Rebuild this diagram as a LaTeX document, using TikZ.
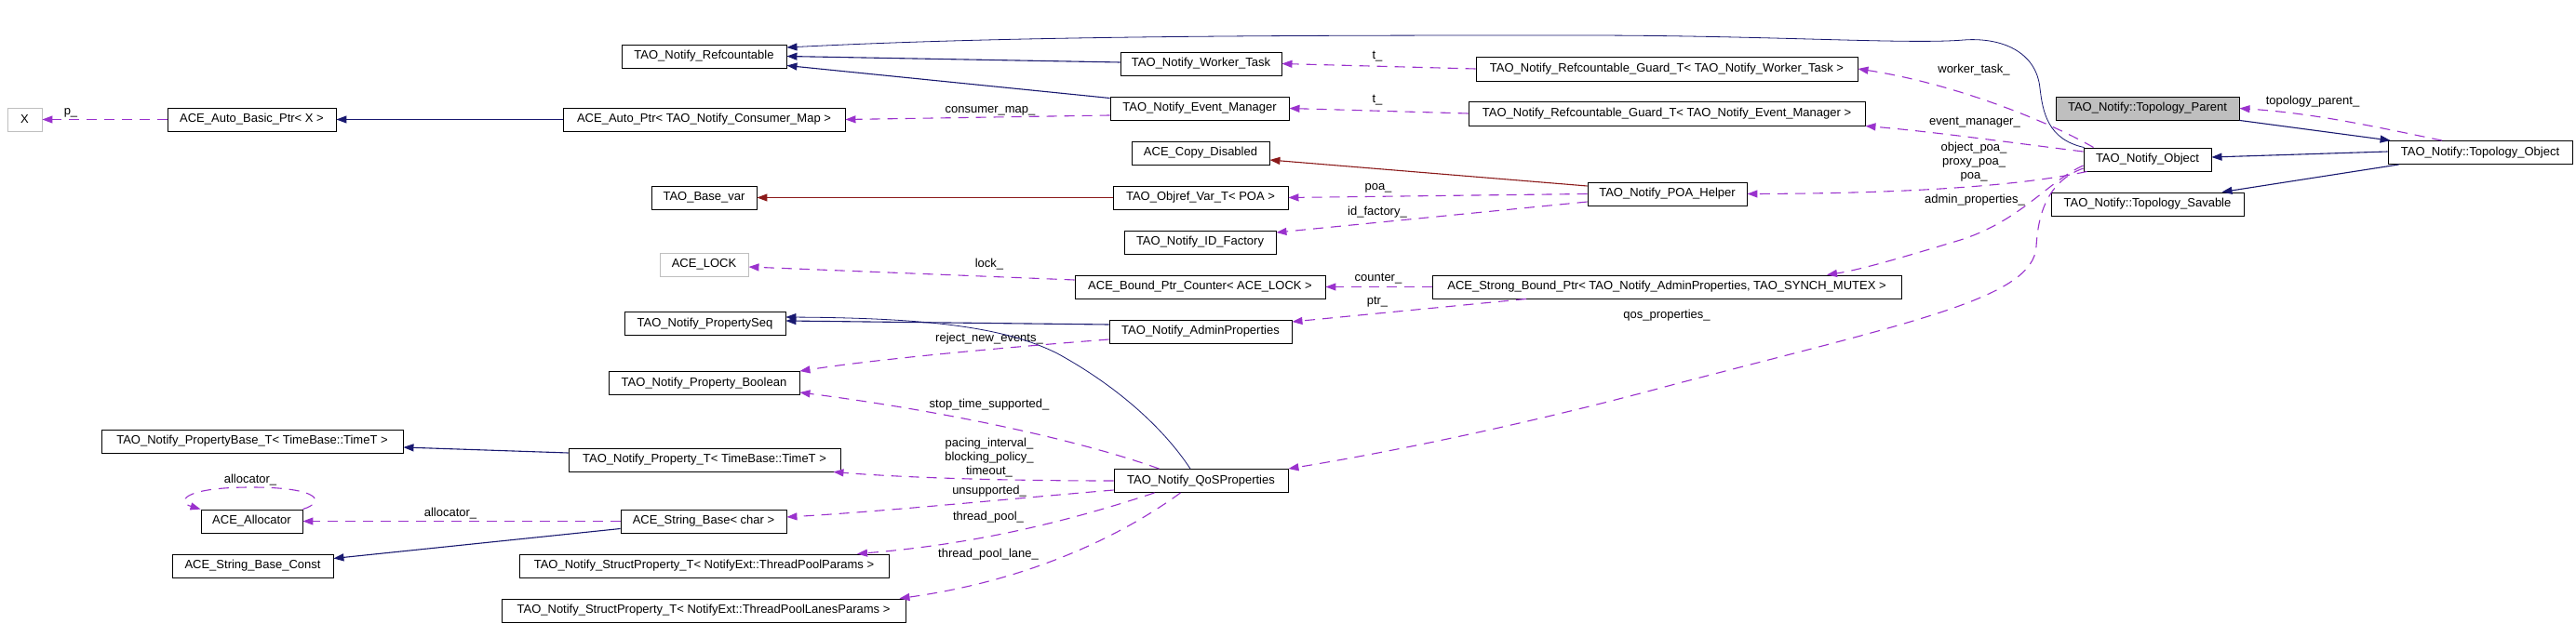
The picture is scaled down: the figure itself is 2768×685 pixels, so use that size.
\documentclass[tikz,border=0pt]{standalone}
\usepackage{fontspec}
\setmainfont{Liberation Sans}
\usetikzlibrary{arrows.meta}
\definecolor{inhblue}{HTML}{191970}
\definecolor{memviolet}{HTML}{9A32CD}
\definecolor{privred}{HTML}{8B1A1A}
\definecolor{grayb}{HTML}{BFBFBF}
\newcommand\fs{\fontsize{13}{15}\selectfont}
\begin{document}
\begin{tikzpicture}[x=1pt,y=-1pt,
  box/.style={draw=black, line width=0.9pt, minimum height=25pt, inner sep=0pt, font=\fs, fill=white, anchor=center},
  gbox/.style={box, draw=grayb},
  lbl/.style={font=\fs, inner sep=0pt, align=center},
  tip/.style={-{Triangle[length=11pt,width=8pt]}},
  inh/.style={tip, draw=inhblue, line width=1.1pt},
  inhthin/.style={tip, draw=inhblue, line width=0.8pt},
  priv/.style={tip, draw=privred, line width=1.1pt},
  mem/.style={tip, draw=memviolet, line width=1.1pt, dash pattern=on 11pt off 8pt}]
\fill[white] (0,0) rectangle (2768,685);
\useasboundingbox (0,0) rectangle (2768,685);
% nodes
\node[gbox, minimum width=37pt] (X) at (26.5,128.5) {X};
\node[box, minimum width=181pt] (autobasic) at (270.5,128.5) {ACE\_Auto\_Basic\_Ptr< X >};
\node[box, minimum width=303pt] (autoptr) at (756.5,128.5) {ACE\_Auto\_Ptr< TAO\_Notify\_Consumer\_Map >};
\node[box, minimum width=177pt] (refc) at (756.5,60.5) {TAO\_Notify\_Refcountable};
\node[box, minimum width=173pt] (worker) at (1290.5,68.5) {TAO\_Notify\_Worker\_Task};
\node[box, minimum width=192pt] (evmgr) at (1289,116.5) {TAO\_Notify\_Event\_Manager};
\node[box, minimum width=148pt] (copydis) at (1290,164.5) {ACE\_Copy\_Disabled};
\node[box, minimum width=113pt] (basevar) at (756.5,212.5) {TAO\_Base\_var};
\node[box, minimum width=188pt] (objref) at (1290,212.5) {TAO\_Objref\_Var\_T< POA >};
\node[box, minimum width=163pt] (idfac) at (1289.5,260.5) {TAO\_Notify\_ID\_Factory};
\node[box, minimum width=171pt] (poahelper) at (1791.5,208.5) {TAO\_Notify\_POA\_Helper};
\node[box, minimum width=410pt, minimum height=26pt] (guardwt) at (1791,74) {TAO\_Notify\_Refcountable\_Guard\_T< TAO\_Notify\_Worker\_Task >};
\node[box, minimum width=426pt, minimum height=26pt] (guardem) at (1791,122) {TAO\_Notify\_Refcountable\_Guard\_T< TAO\_Notify\_Event\_Manager >};
\node[box, minimum width=197pt, fill=grayb] (topparent) at (2307.5,116.5) {TAO\_Notify::Topology\_Parent};
\node[box, minimum width=137pt] (notifyobj) at (2307.5,171.5) {TAO\_Notify\_Object};
\node[box, minimum width=198pt] (topobj) at (2665,164) {TAO\_Notify::Topology\_Object};
\node[box, minimum width=207pt] (topsav) at (2307.5,219.5) {TAO\_Notify::Topology\_Savable};
\node[gbox, minimum width=95pt] (acelock) at (756.5,284.5) {ACE\_LOCK};
\node[box, minimum width=269pt] (boundctr) at (1289.5,308.5) {ACE\_Bound\_Ptr\_Counter< ACE\_LOCK >};
\node[box, minimum width=504pt] (strongbp) at (1791,308.5) {ACE\_Strong\_Bound\_Ptr< TAO\_Notify\_AdminProperties, TAO\_SYNCH\_MUTEX >};
\node[box, minimum width=173pt] (propseq) at (757.5,348) {TAO\_Notify\_PropertySeq};
\node[box, minimum width=196pt] (adminprops) at (1290,356.5) {TAO\_Notify\_AdminProperties};
\node[box, minimum width=205pt] (propbool) at (756.5,412) {TAO\_Notify\_Property\_Boolean};
\node[box, minimum width=324pt] (propbaseT) at (271,474.5) {TAO\_Notify\_PropertyBase\_T< TimeBase::TimeT >};
\node[box, minimum width=292pt] (propT) at (757,494.5) {TAO\_Notify\_Property\_T< TimeBase::TimeT >};
\node[box, minimum width=187pt] (qos) at (1290.5,517) {TAO\_Notify\_QoSProperties};
\node[box, minimum width=109pt] (allocator) at (270.5,560.5) {ACE\_Allocator};
\node[box, minimum width=178pt] (strbase) at (756,560.5) {ACE\_String\_Base< char >};
\node[box, minimum width=173pt] (strbaseconst) at (271.5,608.5) {ACE\_String\_Base\_Const};
\node[box, minimum width=397pt] (structtp) at (756.5,608.5) {TAO\_Notify\_StructProperty\_T< NotifyExt::ThreadPoolParams >};
\node[box, minimum width=434pt] (structtpl) at (756,656.5) {TAO\_Notify\_StructProperty\_T< NotifyExt::ThreadPoolLanesParams >};
% labels
\node[lbl] (lp) at (76,121) {p\_};
\node[lbl] (lcm) at (1064,119) {consumer\_map\_};
\node[lbl] (lt1) at (1480,61) {t\_};
\node[lbl] (lt2) at (1480,108) {t\_};
\node[lbl] (lpoa) at (1481,202) {poa\_};
\node[lbl] (lidf) at (1480,228) {id\_factory\_};
\node[lbl] (lwt) at (2121,75) {worker\_task\_};
\node[lbl] (lem) at (2122,132) {event\_manager\_};
\node[lbl] (lpoas) at (2121,174) {object\_poa\_\\proxy\_poa\_\\poa\_};
\node[lbl] (lap) at (2122,215) {admin\_properties\_};
\node[lbl] (ltp) at (2485,109) {topology\_parent\_};
\node[lbl] (llock) at (1063,284) {lock\_};
\node[lbl] (lctr) at (1481,300) {counter\_};
\node[lbl] (lptr) at (1480,325) {ptr\_};
\node[lbl] (lqos) at (1791,339) {qos\_properties\_};
\node[lbl] (lrne) at (1063,364) {reject\_new\_events\_};
\node[lbl] (lsts) at (1063,435) {stop\_time\_supported\_};
\node[lbl] (lpbt) at (1063,492) {pacing\_interval\_\\blocking\_policy\_\\timeout\_};
\node[lbl] (lun) at (1063,528) {unsupported\_};
\node[lbl] (ltpool) at (1062,556) {thread\_pool\_};
\node[lbl] (ltpl) at (1062,596) {thread\_pool\_lane\_};
\node[lbl] (lal1) at (269,516) {allocator\_};
\node[lbl] (lal2) at (484,552) {allocator\_};
% edges
\draw[mem] (autobasic.west) -- (X.east);
\draw[inh] (autoptr.west) -- (autobasic.east);
\draw[mem] ([yshift=-7.5pt]evmgr.west) -- (autoptr.east);
\draw[inh] ([yshift=1.5pt]worker.west) -- (refc.east);
\draw[inh] ([yshift=11pt]evmgr.west) -- ([yshift=-10pt]refc.east);
\draw[inhthin] ([xshift=1pt]notifyobj.north west) .. controls (2200,150) and (2195,120) .. (2192,95) .. controls (2188,55) and (2150,40) .. (2110,43) .. controls (2050,48) and (1900,38) .. (1700,38) .. controls (1400,38) and (1100,38) .. ([yshift=9.5pt]refc.east);
\draw[mem] (guardwt.west) -- (worker.east);
\draw[mem] (guardem.west) -- (evmgr.east);
\draw[priv] ([yshift=8.5pt]poahelper.west) -- ([yshift=-7.5pt]copydis.east);
\draw[priv] (objref.west) -- (basevar.east);
\draw[mem] (poahelper.west) -- (objref.east);
\draw[mem] ([yshift=-8.5pt]poahelper.west) -- ([yshift=10.5pt]idfac.east);
\draw[mem] ([xshift=11pt]notifyobj.north west) .. controls (2200,130) and (2100,90) .. (guardwt.east);
\draw[mem] ([yshift=8.5pt]notifyobj.west) .. controls (2150,152) and (2080,142) .. (guardem.south east);
\draw[mem] ([xshift=4pt]notifyobj.south west) .. controls (2170,200) and (2050,208) .. (poahelper.east);
\draw[mem] ([yshift=-6.5pt]notifyobj.west) .. controls (2200,195) and (2170,240) .. (2100,260) .. controls (2050,275) and (2000,290) .. ([xshift=172pt]strongbp.north);
\draw[mem] ([yshift=-9.5pt]notifyobj.west) .. controls (2200,195) and (2190,230) .. (2188,265) .. controls (2185,320) and (2060,345) .. (1800,413) .. controls (1620,462) and (1470,490) .. (qos.north east);
\draw[inh] (topparent.south east) -- ([xshift=3pt]topobj.north west);
\draw[inh] ([yshift=1pt]topobj.west) -- ([yshift=2.5pt]notifyobj.east);
\draw[inh] ([xshift=12pt]topobj.south west) -- ([xshift=80pt]topsav.north);
\draw[mem] ([xshift=-41pt]topobj.north) .. controls (2560,138) and (2490,122) .. (topparent.east);
\draw[mem] (strongbp.west) -- (boundctr.east);
\draw[mem] ([xshift=-151pt]strongbp.south) -- ([yshift=10.5pt]adminprops.east);
\draw[mem] ([yshift=7.5pt]boundctr.west) -- ([yshift=-2.5pt]acelock.east);
\draw[inh] ([yshift=7.5pt]adminprops.west) -- ([yshift=3pt]propseq.east);
\draw[inhthin] ([xshift=-11.5pt]qos.north) .. controls (1250,460) and (1200,415) .. (1136,380) .. controls (1080,352) and (1000,342) .. ([yshift=7pt]propseq.east);
\draw[mem] ([yshift=-8.5pt]adminprops.west) .. controls (1100,372) and (950,385) .. (propbool.north east);
\draw[mem] ([xshift=-45pt]qos.north) .. controls (1150,470) and (1000,440) .. ([yshift=-10pt]propbool.east);
\draw[mem] (qos.west) .. controls (1050,517) and (950,512) .. ([xshift=-8pt]propT.south east);
\draw[mem] ([yshift=-10pt]qos.west) .. controls (1100,535) and (950,550) .. ([yshift=4.5pt]strbase.east);
\draw[mem] ([xshift=-50pt]qos.south) .. controls (1150,560) and (1050,585) .. ([xshift=164.5pt]structtp.north);
\draw[mem] ([xshift=-22pt]qos.south) .. controls (1200,580) and (1100,625) .. ([xshift=-7pt]structtpl.north east);
\draw[inh] ([yshift=7.5pt]propT.west) -- ([yshift=-6.5pt]propbaseT.east);
\draw[mem] (strbase.west) -- (allocator.east);
\draw[inh] ([yshift=-8pt]strbase.west) -- ([yshift=8pt]strbaseconst.east);
\draw[mem] (allocator.north east) .. controls (350,540) and (345,524) .. (270,524) .. controls (195,524) and (190,540) .. (allocator.north west);
\end{tikzpicture}
\end{document}
